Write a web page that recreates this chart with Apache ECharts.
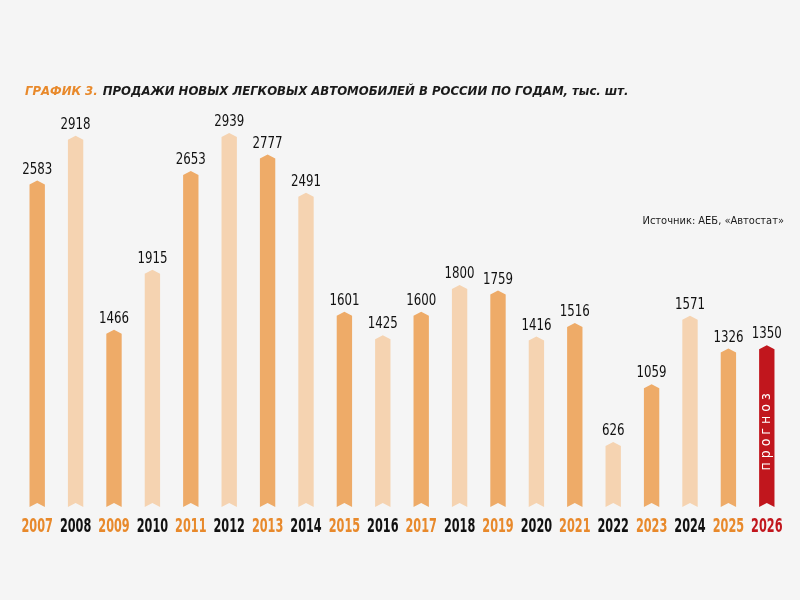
<!DOCTYPE html>
<html>
<head>
<meta charset="utf-8">
<script src="https://cdn.jsdelivr.net/npm/echarts@6/dist/echarts.min.js"></script>
<style>
  html, body { margin: 0; padding: 0; background: #f5f5f5; }
  #main { width: 800px; height: 600px; }
</style>
</head>
<body>
<div id="main"></div>
<script>
var years = ['2007', '2008', '2009', '2010', '2011', '2012', '2013', '2014', '2015', '2016',
    '2017', '2018', '2019', '2020', '2021', '2022', '2023', '2024', '2025', '2026'];
var sales = [2583, 2918, 1466, 1915, 2653, 2939, 2777, 2491, 1601, 1425,
    1600, 1800, 1759, 1416, 1516, 626, 1059, 1571, 1326, 1350];
var forecastYear = '2026';

var myChart = echarts.init(document.getElementById('main'));

var darkOrange = '#eeab68';
var lightOrange = '#f5d3b1';
var red = '#c1161d';
var orangeText = '#e8892b';
var font = '"DejaVu Sans Condensed", "Liberation Sans Narrow", sans-serif';
var yMin = 140;

function barColor(year) {
    if (year === forecastYear) return red;
    return (+year % 2) ? darkOrange : lightOrange;
}

function yearColor(year) {
    if (year === forecastYear) return red;
    return (+year % 2) ? orangeText : '#111';
}

var option = {
    backgroundColor: '#f5f5f5',
    title: {
        text: '{a|ГРАФИК 3.} {b|ПРОДАЖИ НОВЫХ ЛЕГКОВЫХ АВТОМОБИЛЕЙ В РОССИИ ПО ГОДАМ, тыс. шт.}',
        left: 20,
        top: 78,
        textStyle: {
            rich: {
                a: { color: orangeText, fontSize: 13, fontWeight: 'bold', fontStyle: 'italic', fontFamily: font },
                b: { color: '#1a1a1a', fontSize: 13, fontWeight: 'bold', fontStyle: 'italic', fontFamily: font }
            }
        }
    },
    graphic: [{
        type: 'text',
        right: 16,
        top: 216,
        style: { text: 'Источник: АЕБ, «Автостат»', fill: '#1a1a1a', font: '11px ' + font }
    }],
    grid: { left: 18, right: 14, top: 98, bottom: 93 },
    xAxis: {
        type: 'category',
        data: years,
        axisLine: { show: false },
        axisTick: { show: false },
        axisLabel: { show: false }
    },
    yAxis: { type: 'value', min: yMin, max: 3200, show: false },
    series: [{
        type: 'custom',
        data: sales.map(function (v, i) { return [i, v]; }),
        renderItem: function (params, api) {
            var idx = api.value(0);
            var top = api.coord([idx, api.value(1)]);
            var base = api.coord([idx, yMin]);
            var w = api.size([1, 0])[0] * 0.4;
            var cx = top[0], ty = top[1], by = base[1];
            var tip = 4, notch = 4;
            var year = years[idx];
            var children = [{
                type: 'polygon',
                shape: {
                    points: [
                        [cx - w / 2, ty + tip], [cx, ty], [cx + w / 2, ty + tip],
                        [cx + w / 2, by], [cx, by - notch], [cx - w / 2, by]
                    ]
                },
                style: { fill: barColor(year) }
            }, {
                type: 'text',
                x: cx,
                y: ty - 3,
                scaleX: 0.82,
                style: {
                    text: String(api.value(1)),
                    fill: '#111',
                    font: '16px ' + font,
                    textAlign: 'center',
                    textVerticalAlign: 'bottom'
                }
            }, {
                type: 'text',
                x: cx,
                y: by + 20,
                scaleX: 0.66,
                style: {
                    text: year,
                    fill: yearColor(year),
                    font: 'bold 19px ' + font,
                    textAlign: 'center',
                    textVerticalAlign: 'middle'
                }
            }];
            if (year === forecastYear) {
                children.push({
                    type: 'text',
                    x: cx,
                    y: by - 75,
                    rotation: Math.PI / 2,
                    style: {
                        text: 'п р о г н о з',
                        fill: '#fff',
                        font: '14px ' + font,
                        textAlign: 'center',
                        textVerticalAlign: 'middle'
                    }
                });
            }
            return { type: 'group', children: children };
        }
    }]
};

myChart.setOption(option);
</script>
</body>
</html>
